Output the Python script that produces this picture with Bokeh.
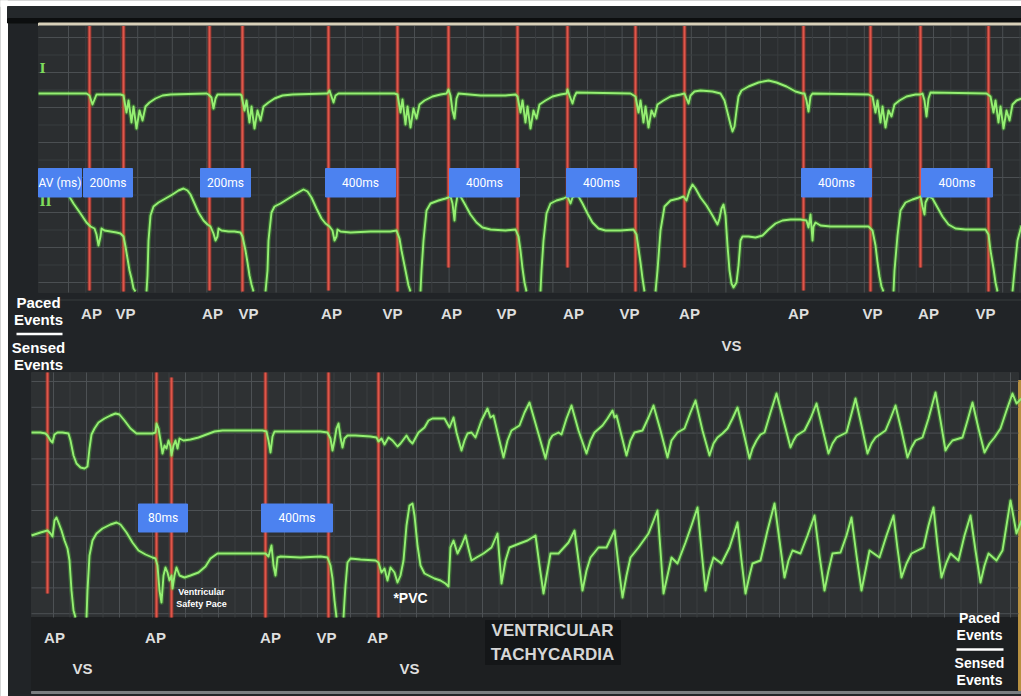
import numpy as np
from bokeh.plotting import figure
from bokeh.models import Range1d
from bokeh.embed import file_html
from bokeh.resources import INLINE
from bokeh.core.properties import value

# ---------------- DATA (strip time units, display amplitude units) ----------------
# Upper strip, lead I
top_lead1 = [
    (38, 93), (86, 93), (89, 95), (92, 104), (94, 99), (96, 94), (120, 94),
    (123, 95), (126, 112), (128, 100), (131, 122), (133, 106), (136, 128), (139, 110), (142, 120),
    (145, 106), (149, 102), (155, 98), (162, 95), (170, 94), (206, 93),
    (208, 94), (211, 97), (213, 108), (215, 98), (217, 94), (240, 94),
    (241, 95), (244, 110), (246, 100), (249, 122), (251, 106), (254, 128), (257, 110), (260, 120),
    (263, 106), (268, 102), (274, 98), (282, 95), (292, 94), (325, 93),
    (327, 93), (329, 90), (331, 96), (333, 102), (335, 95), (338, 93), (394, 93),
    (397, 94), (400, 112), (402, 99), (405, 124), (407, 106), (410, 127), (413, 108), (416, 118),
    (419, 104), (424, 100), (432, 96), (440, 94), (446, 93),
    (448, 89), (450, 95), (452, 110), (454, 118), (456, 98), (458, 93), (480, 95), (505, 95), (515, 94),
    (517, 96), (520, 112), (522, 100), (525, 122), (527, 106), (530, 128), (533, 110), (536, 118),
    (539, 104), (545, 100), (552, 96), (560, 94), (566, 93),
    (567, 89), (569, 95), (572, 103), (574, 96), (576, 92), (630, 93),
    (635, 96), (638, 112), (640, 100), (643, 122), (645, 106), (648, 127), (651, 110), (654, 116),
    (657, 104), (663, 100), (670, 96), (680, 94),
    (684, 93), (686, 98), (688, 103), (690, 95), (694, 91), (700, 90), (712, 91), (720, 93),
    (724, 100), (727, 112), (730, 124), (732, 131), (734, 126), (736, 110), (738, 96), (741, 90),
    (748, 86), (758, 82), (768, 80), (776, 82), (786, 86), (795, 91), (802, 93),
    (804, 93), (806, 100), (808, 111), (810, 96), (812, 93), (868, 94),
    (872, 96), (875, 112), (877, 100), (880, 122), (882, 106), (885, 127), (888, 110), (891, 116),
    (894, 104), (899, 100), (906, 96), (915, 94), (920, 94),
    (922, 93), (924, 100), (926, 116), (928, 98), (930, 92), (986, 93),
    (990, 96), (993, 112), (995, 100), (998, 122), (1000, 106), (1003, 128), (1006, 110), (1009, 120),
    (1012, 104), (1016, 100), (1021, 98),
]

# Upper strip, lead II (segments break where the trace leaves the screen)
top_lead2 = [
    [(60, 188), (67, 193), (73, 203), (80, 213), (86, 222), (90, 226), (94, 228), (96, 234), (98, 245),
     (100, 236), (101, 228), (104, 230), (110, 231), (116, 232), (120, 233), (123, 236), (125, 246),
     (127, 258), (129, 270), (131, 278), (133, 288), (135, 291)],
    [(146, 291), (147, 275), (148, 240), (150, 215), (153, 206), (158, 202), (165, 198), (172, 194),
     (178, 190), (183, 188), (187, 190), (190, 194), (194, 203), (198, 212), (203, 220), (207, 224),
     (210, 226), (213, 233), (215, 240), (217, 236), (218, 228), (221, 230), (228, 231), (234, 231),
     (240, 232), (242, 236), (245, 250), (247, 262), (249, 275), (251, 284), (253, 291)],
    [(265, 291), (267, 270), (268, 240), (271, 212), (274, 206), (280, 203), (288, 198), (296, 193),
     (303, 189), (307, 191), (311, 197), (316, 208), (321, 218), (325, 223), (329, 226), (332, 230),
     (334, 240), (336, 236), (337, 229), (340, 231), (350, 232), (370, 231), (390, 231), (396, 230),
     (399, 238), (401, 250), (404, 265), (406, 275), (408, 285), (410, 291)],
    [(420, 291), (421, 270), (423, 240), (426, 210), (430, 203), (438, 200), (445, 198), (448, 197),
     (450, 196), (452, 203), (454, 220), (455, 207), (457, 195), (460, 196), (464, 203), (470, 214),
     (476, 222), (482, 227), (490, 229), (505, 230), (515, 229), (518, 236), (520, 250), (522, 268),
     (524, 282), (526, 291)],
    [(540, 291), (541, 270), (543, 240), (546, 213), (550, 203), (556, 200), (563, 198), (567, 196),
     (570, 203), (572, 197), (575, 195), (578, 196), (582, 203), (587, 213), (592, 222), (598, 228),
     (605, 230), (620, 230), (633, 229), (636, 234), (638, 248), (640, 262), (642, 278), (644, 291)],
    [(655, 291), (657, 270), (660, 230), (664, 206), (670, 200), (678, 198), (683, 196), (686, 200),
     (689, 190), (692, 184), (695, 188), (700, 197), (706, 205), (712, 215), (717, 224), (719, 218),
     (721, 208), (723, 204), (725, 215), (727, 245), (729, 270), (731, 283), (733, 287), (736, 282),
     (738, 265), (740, 240), (742, 236), (748, 236), (755, 237), (762, 235), (768, 229), (775, 223),
     (782, 220), (790, 219), (800, 219), (806, 220), (808, 227), (810, 214), (812, 240), (813, 226),
     (815, 222), (820, 225), (830, 226), (850, 226), (868, 226), (872, 230), (875, 245), (877, 262),
     (879, 276), (881, 286), (883, 291)],
    [(893, 291), (894, 270), (897, 235), (900, 210), (905, 202), (912, 199), (918, 197), (920, 196),
     (922, 206), (924, 214), (925, 202), (928, 196), (932, 198), (937, 207), (942, 216), (948, 224),
     (955, 228), (965, 229), (985, 229), (988, 234), (990, 250), (993, 268), (995, 282), (997, 291)],
    [(1012, 291), (1014, 270), (1017, 240), (1021, 225)],
]

# Lower strip, lead I (pacing then ventricular tachycardia)
bot_lead1 = [
    (31, 432), (40, 432), (45, 433), (47, 435), (50, 440), (52, 442), (54, 434), (57, 432), (62, 432),
    (68, 433), (70, 440), (73, 455), (76, 463), (80, 467), (84, 468), (87, 466), (89, 448), (91, 434),
    (94, 428), (98, 422), (104, 418), (110, 415), (115, 413), (119, 414), (124, 420), (130, 428),
    (136, 433), (145, 433), (152, 433), (155, 432), (156, 423), (158, 428), (160, 440), (162, 453),
    (164, 445), (166, 448), (168, 440), (170, 446), (171, 455), (173, 445), (175, 440), (177, 448),
    (179, 438), (183, 440), (190, 439), (198, 437), (206, 434), (214, 431), (222, 430), (235, 430),
    (250, 430), (262, 430), (266, 431), (268, 440), (270, 452), (272, 436), (274, 431), (280, 431),
    (300, 431), (320, 431), (327, 432), (330, 438), (332, 450), (334, 440), (336, 428), (338, 423),
    (340, 437), (342, 447), (344, 438), (347, 435), (355, 435), (370, 436), (376, 437), (378, 441),
    (381, 438), (384, 444), (388, 437), (392, 440), (397, 446), (400, 443), (406, 435), (409, 440),
    (412, 443), (418, 432), (424, 427), (428, 420), (432, 418), (444, 418), (449, 427), (453, 417),
    (456, 432), (461, 450), (464, 440), (467, 433), (471, 432), (475, 437), (481, 420), (487, 408),
    (490, 417), (493, 415), (497, 432), (503, 457), (507, 440), (511, 430), (519, 425), (524, 412),
    (529, 402), (537, 430), (545, 458), (549, 440), (552, 435), (558, 432), (561, 434), (566, 418),
    (571, 405), (578, 430), (586, 453), (590, 440), (594, 432), (602, 425), (607, 418), (612, 410),
    (614, 417), (616, 415), (621, 435), (626, 455), (630, 440), (634, 432), (642, 430), (648, 417),
    (653, 405), (660, 430), (667, 457), (671, 440), (677, 432), (684, 428), (690, 412), (695, 400),
    (702, 430), (709, 455), (713, 443), (717, 437), (722, 433), (727, 428), (732, 418), (737, 407),
    (743, 432), (749, 458), (752, 448), (756, 440), (760, 434), (764, 432), (770, 412), (776, 393),
    (783, 420), (790, 447), (793, 440), (796, 435), (804, 430), (810, 418), (816, 403), (822, 428),
    (828, 453), (832, 443), (836, 437), (846, 432), (850, 417), (855, 398), (861, 425), (867, 453),
    (871, 443), (875, 437), (885, 430), (890, 418), (895, 405), (901, 430), (907, 457), (911, 447),
    (915, 440), (922, 437), (928, 418), (935, 392), (940, 420), (945, 450), (948, 445), (952, 440),
    (962, 437), (967, 420), (972, 402), (978, 428), (984, 452), (989, 443), (994, 437), (1000, 428),
    (1006, 410), (1012, 393), (1016, 403), (1021, 398),
]

# Lower strip, lead II
bot_lead2 = [
    [(31, 535), (40, 532), (47, 530), (50, 533), (52, 536), (54, 520), (56, 517), (58, 522), (61, 530),
     (64, 540), (67, 548), (69, 560), (71, 590), (73, 610), (75, 617)],
    [(86, 617), (87, 590), (89, 555), (92, 540), (96, 533), (102, 528), (110, 524), (116, 522),
     (120, 524), (126, 532), (132, 542), (138, 550), (145, 554), (152, 557), (155, 558), (157, 565),
     (159, 590), (161, 602), (163, 575), (165, 567), (167, 572), (169, 580), (171, 575), (172, 588),
     (174, 575), (176, 567), (179, 575), (184, 577), (190, 575), (198, 572), (205, 566), (210, 558),
     (217, 553), (230, 553), (250, 553), (265, 553), (268, 556), (271, 545), (273, 565), (275, 575),
     (277, 557), (280, 556), (300, 557), (320, 556), (327, 557), (330, 565), (332, 578), (334, 600),
     (336, 617)],
    [(343, 617), (344, 600), (345, 585), (347, 562), (350, 558), (360, 559), (375, 560), (378, 562),
     (381, 572), (384, 568), (387, 580), (390, 567), (394, 572), (397, 582), (400, 575), (403, 560),
     (406, 525), (409, 505), (412, 503), (414, 515), (417, 545), (420, 565), (424, 573), (428, 575),
     (434, 578), (440, 580), (445, 583), (448, 586), (450, 547), (453, 540), (457, 553), (461, 545),
     (465, 535), (468, 548), (471, 560), (476, 557), (483, 553), (491, 547), (497, 533), (501, 583),
     (505, 560), (509, 547), (519, 543), (527, 540), (535, 535), (539, 565), (543, 593), (547, 570),
     (550, 553), (558, 553), (568, 542), (574, 530), (578, 560), (582, 590), (586, 570), (590, 557),
     (598, 547), (606, 547), (614, 530), (618, 565), (622, 597), (626, 575), (630, 557), (638, 547),
     (648, 533), (657, 510), (660, 550), (663, 593), (667, 575), (671, 557), (677, 563), (685, 542),
     (691, 525), (697, 507), (701, 550), (705, 590), (709, 570), (713, 557), (721, 563), (729, 547),
     (737, 522), (741, 560), (745, 593), (749, 575), (752, 563), (760, 560), (767, 530), (774, 503),
     (779, 540), (784, 577), (788, 560), (792, 550), (800, 553), (807, 535), (814, 515), (819, 555),
     (824, 590), (828, 570), (832, 553), (840, 552), (846, 535), (851, 517), (856, 555), (861, 590),
     (865, 570), (869, 550), (879, 557), (886, 535), (893, 515), (897, 548), (901, 577), (906, 563),
     (911, 553), (923, 547), (928, 525), (933, 507), (937, 545), (941, 577), (946, 562), (950, 553),
     (958, 560), (964, 535), (970, 515), (975, 550), (980, 582), (984, 565), (988, 553), (996, 560),
     (1002, 550), (1006, 525), (1010, 500), (1016, 533), (1021, 520)],
]

# Pacemaker markers (upper strip)
top_ap_t = [89, 209, 328, 448, 567, 684, 803, 920]
top_ap_long = [True, True, True, False, False, False, True, False]
top_vp_t = [123, 242, 397, 517, 635, 870, 988]

# Marker annotation labels (upper strip)
top_lbl_text = ["AP", "VP", "AP", "VP", "AP", "VP", "AP", "VP", "AP", "VP", "AP", "AP", "VP", "AP", "VP"]
top_lbl_t = [91, 125, 212, 248, 331, 392, 451, 506, 573, 629, 689, 798, 872, 928, 985]
top_sensed_text = ["VS"]
top_sensed_t = [731]

# AV interval boxes (upper strip)
top_av_text = ["AV (ms)", "200ms", "200ms", "400ms", "400ms", "400ms", "400ms", "400ms"]
top_av_start = [38, 83, 200, 325, 449, 566, 801, 921]
top_av_end = [81, 132, 250, 395, 519, 636, 871, 992]

# Pacemaker markers (lower strip)
bot_marker_t = [47, 156, 171, 265, 328, 378]
bot_marker_long = [False, True, True, True, True, True]

bot_lbl_text = ["AP", "AP", "AP", "VP", "AP"]
bot_lbl_t = [54, 155, 270, 326, 377]
bot_sensed_text = ["VS", "VS"]
bot_sensed_t = [82, 409]

bot_av_text = ["80ms", "400ms"]
bot_av_start = [138, 261]
bot_av_end = [187, 332]

# ---------------- FIGURE ----------------
W, H = 1021, 696
p = figure(width=W, height=H, x_range=Range1d(0, W), y_range=Range1d(H, 0),
           output_backend="svg", toolbar_location=None, min_border=0,
           background_fill_color="#212427", border_fill_color="#212427", outline_line_color=None)
p.axis.visible = False
p.xgrid.visible = False
p.ygrid.visible = False

FONT = value("Liberation Sans")

# photo border and panel backgrounds
p.quad(left=[0], right=[W], top=[0], bottom=[6], color="white")
p.quad(left=[0], right=[7], top=[0], bottom=[H], color="white")
p.quad(left=[7], right=[W], top=[6], bottom=[18], color="#24282b")
p.quad(left=[7], right=[W], top=[18], bottom=[22.5], color="#0c0e0f")
p.quad(left=[38], right=[W], top=[22.5], bottom=[25.5], color="#d8d0b9")
p.quad(left=[38], right=[W], top=[25.5], bottom=[292], color="#2b2e30")
p.quad(left=[31], right=[1018], top=[372], bottom=[617], color="#2e3133")
p.quad(left=[31], right=[1018], top=[617], bottom=[690], color="#1d1f21")
p.quad(left=[1018], right=[1021], top=[380], bottom=[690], color="#b89040")
p.quad(left=[31], right=[W], top=[691], bottom=[693], color="#7a7d80")

# screen graticules (decorative)
gx_top = np.arange(68, W, 34.6)
gy_top = np.arange(37, 292, 35.0)
p.segment(x0=gx_top, y0=25.5, x1=gx_top, y1=292, line_color="#4b4f52", line_width=1)
p.segment(x0=38, y0=gy_top, x1=W, y1=gy_top, line_color="#4b4f52", line_width=1)
p.segment(x0=gx_top + 17.3, y0=25.5, x1=gx_top + 17.3, y1=292, line_color="#393c3f", line_width=1)
p.segment(x0=38, y0=gy_top + 17.5, x1=W, y1=gy_top + 17.5, line_color="#393c3f", line_width=1)

gx_bot = np.arange(53, 1018, 33.0)
gy_bot = np.arange(381, 617, 25.8)
p.segment(x0=gx_bot, y0=372, x1=gx_bot, y1=617, line_color="#4d5154", line_width=1)
p.segment(x0=31, y0=gy_bot, x1=1018, y1=gy_bot, line_color="#4d5154", line_width=1)
p.segment(x0=gx_bot + 16.5, y0=372, x1=gx_bot + 16.5, y1=617, line_color="#3b3e41", line_width=1)

# pacing marker lines
RED = "#e0574a"
top_ends = [290 if f else 267 for f in top_ap_long] + [291] * len(top_vp_t)
top_xs = top_ap_t + top_vp_t
p.segment(x0=top_xs, y0=25.5, x1=top_xs, y1=top_ends, line_color="#b8342a", line_width=4, line_alpha=0.6)
p.segment(x0=top_xs, y0=25.5, x1=top_xs, y1=top_ends, line_color=RED, line_width=2)
bot_ends = [617 if f else 593 for f in bot_marker_long]
bot_starts = [377 if t == 171 else 372 for t in bot_marker_t]
p.segment(x0=bot_marker_t, y0=bot_starts, x1=bot_marker_t, y1=bot_ends, line_color="#b8342a", line_width=4, line_alpha=0.6)
p.segment(x0=bot_marker_t, y0=bot_starts, x1=bot_marker_t, y1=bot_ends, line_color=RED, line_width=2)


def join(segs):
    xs, ys = [], []
    for s in segs:
        for a, b in s:
            xs.append(a)
            ys.append(b)
        xs.append(np.nan)
        ys.append(np.nan)
    return xs, ys


def trace(xs, ys):
    p.line(xs, ys, line_color="#4fc936", line_width=4.5, line_alpha=0.35, line_join="round")
    p.line(xs, ys, line_color="#95ef72", line_width=1.9, line_join="round")


for segs in ([top_lead1], top_lead2, [bot_lead1], bot_lead2):
    xs, ys = join(segs)
    trace(xs, ys)

# lead labels
p.text(x=[42], y=[68], text=["I"], text_font=value("DejaVu Serif"), text_font_style="bold",
       text_font_size="13px", text_color="#7fdc5c", text_align="center", text_baseline="middle")
p.text(x=[45], y=[201], text=["II"], text_font=value("DejaVu Serif"), text_font_style="bold",
       text_font_size="13px", text_color="#7fdc5c", text_align="center", text_baseline="middle")

# AV boxes
BLUE = "#4c82f0"
p.quad(left=top_av_start, right=top_av_end, top=168, bottom=196.5, color=BLUE)
p.text(x=[(a + b) / 2 for a, b in zip(top_av_start, top_av_end)], y=182.5, text=top_av_text,
       text_font=value("Roboto"), text_font_size="12px", text_color="white",
       text_align="center", text_baseline="middle")
p.quad(left=bot_av_start, right=bot_av_end, top=503.5, bottom=531.5, color=BLUE)
p.text(x=[(a + b) / 2 for a, b in zip(bot_av_start, bot_av_end)], y=517.5, text=bot_av_text,
       text_font=value("Roboto"), text_font_size="12px", text_color="white",
       text_align="center", text_baseline="middle")

# marker annotation labels
LBL = "#dedede"
p.text(x=top_lbl_t, y=313, text=top_lbl_text, text_font=FONT, text_font_style="bold",
       text_font_size="15px", text_color=LBL, text_align="center", text_baseline="middle")
p.text(x=top_sensed_t, y=345, text=top_sensed_text, text_font=FONT, text_font_style="bold",
       text_font_size="15px", text_color=LBL, text_align="center", text_baseline="middle")
p.text(x=bot_lbl_t, y=637, text=bot_lbl_text, text_font=FONT, text_font_style="bold",
       text_font_size="15px", text_color=LBL, text_align="center", text_baseline="middle")
p.text(x=bot_sensed_t, y=668, text=bot_sensed_text, text_font=FONT, text_font_style="bold",
       text_font_size="15px", text_color=LBL, text_align="center", text_baseline="middle")

# legends "Paced Events / Sensed Events"
p.text(x=38, y=[302, 319, 347, 364], text=["Paced", "Events", "Sensed", "Events"], text_font=FONT,
       text_font_style="bold", text_font_size="15px", text_color="white",
       text_align="center", text_baseline="middle")
p.segment(x0=[16], y0=[333.5], x1=[62], y1=[333.5], line_color="white", line_width=2.5)
p.text(x=979, y=[617, 634, 662, 679], text=["Paced", "Events", "Sensed", "Events"], text_font=FONT,
       text_font_style="bold", text_font_size="14px", text_color="white",
       text_align="center", text_baseline="middle")
p.segment(x0=[956], y0=[649], x1=[1003], y1=[649], line_color="white", line_width=2.5)

# other annotations
p.text(x=201, y=[591, 603], text=["Ventricular", "Safety Pace"], text_font=FONT, text_font_style="bold",
       text_font_size="9px", text_color="white", text_align="center", text_baseline="middle")
p.text(x=[410], y=[597], text=["*PVC"], text_font=FONT, text_font_style="bold",
       text_font_size="14px", text_color="white", text_align="center", text_baseline="middle")
p.quad(left=[485], right=[620], top=[620], bottom=[664], color="#141618")
p.text(x=552, y=[630, 654], text=["VENTRICULAR", "TACHYCARDIA"], text_font=FONT, text_font_style="bold",
       text_font_size="17px", text_color="#d6d6d6", text_align="center", text_baseline="middle")

open("out.html", "w").write(file_html(p, INLINE))
